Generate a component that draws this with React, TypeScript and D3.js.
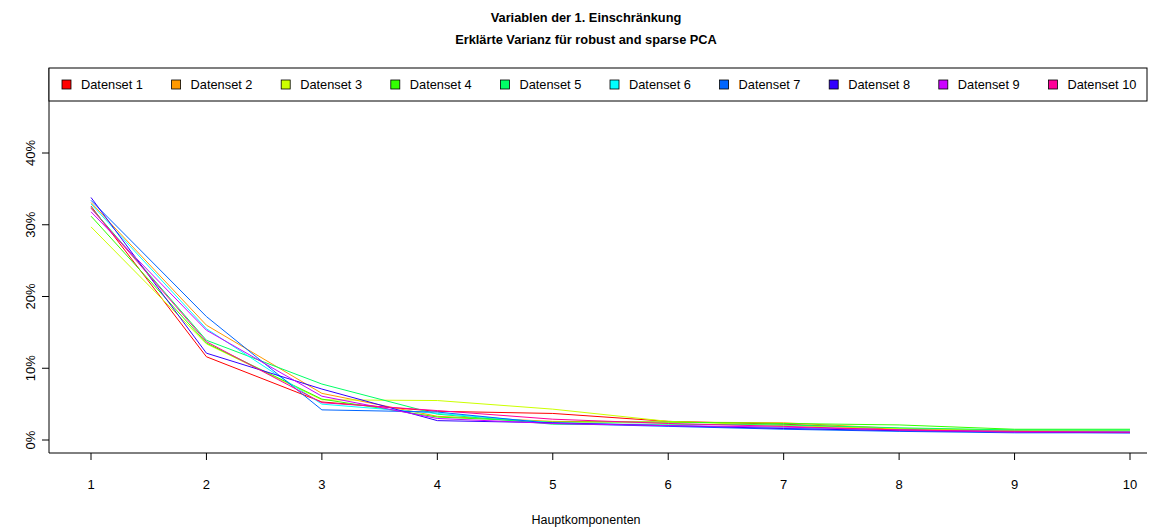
import React from "react";
import * as d3 from "d3";

// Principal components on the x axis
const components = [1, 2, 3, 4, 5, 6, 7, 8, 9, 10];

// Explained variance (%) per component for each dataset
const datenset1 = [32.6, 11.6, 5.3, 4.0, 3.7, 2.6, 2.2, 1.5, 1.2, 1.1];
const datenset2 = [33.1, 16.0, 6.5, 3.3, 2.6, 2.5, 2.4, 1.6, 1.3, 1.2];
const datenset3 = [29.7, 13.4, 5.6, 5.5, 4.3, 2.6, 2.0, 1.6, 1.4, 1.3];
const datenset4 = [31.2, 13.5, 5.7, 3.2, 2.5, 2.5, 2.3, 2.1, 1.5, 1.5];
const datenset5 = [32.4, 13.9, 7.8, 3.6, 2.2, 2.2, 2.1, 1.7, 1.4, 1.4];
const datenset6 = [32.9, 15.5, 5.0, 3.7, 2.4, 2.0, 1.7, 1.4, 1.2, 1.2];
const datenset7 = [33.4, 17.2, 4.2, 3.9, 2.3, 1.9, 1.5, 1.2, 1.0, 1.0];
const datenset8 = [33.8, 12.1, 7.1, 2.7, 2.4, 2.0, 1.6, 1.3, 1.1, 1.0];
const datenset9 = [31.8, 15.3, 6.1, 3.0, 2.3, 2.0, 1.8, 1.4, 1.1, 1.1];
const datenset10 = [32.3, 13.7, 5.2, 4.1, 2.9, 2.3, 1.9, 1.4, 1.2, 1.1];

const seriesNames = [
  "Datenset 1", "Datenset 2", "Datenset 3", "Datenset 4", "Datenset 5",
  "Datenset 6", "Datenset 7", "Datenset 8", "Datenset 9", "Datenset 10",
];
const seriesValues = [
  datenset1, datenset2, datenset3, datenset4, datenset5,
  datenset6, datenset7, datenset8, datenset9, datenset10,
];
const seriesColors = [
  "#FF0000", "#FF9900", "#CCFF00", "#33FF00", "#00FF66",
  "#00FFFF", "#0066FF", "#3300FF", "#CC00FF", "#FF0099",
];

const yTicks = [0, 10, 20, 30, 40];
const yTickLabels = ["0%", "10%", "20%", "30%", "40%"];

const titleLines = ["Variablen der 1. Einschränkung", "Erklärte Varianz für robust and sparse PCA"];
const xAxisTitle = "Hauptkomponenten";

const W = 1172;
const H = 528;
const FONT = "'Liberation Sans', Arial, Helvetica, sans-serif";

export default function App() {
  const plotLeft = 49;
  const plotRight = 1147;
  const plotTop = 68;
  const plotBottom = 453;

  const x = d3.scaleLinear().domain([1, 10]).range([91, 1130]);
  const y = d3.scaleLinear().domain([0, 40]).range([440, 153]);

  const line = d3
    .line<number>()
    .x((_, i) => x(components[i]))
    .y((d) => y(d));

  const legendH = 33;
  const legendStep = 109.6;
  const legendText0 = 81;
  const legendMidY = plotTop + legendH / 2;

  return (
    <svg
      width={W}
      height={H}
      style={{ position: "absolute", left: 0, top: 0, background: "#fff" }}
      fontFamily={FONT}
    >
      <rect x={0} y={0} width={W} height={H} fill="#fff" />

      {/* Title */}
      {titleLines.map((t, i) => (
        <text
          key={t}
          x={586}
          y={22 + i * 22}
          textAnchor="middle"
          fontWeight="bold"
          fontSize={12.8}
          fill="#000"
        >
          {t}
        </text>
      ))}

      {/* Series lines */}
      {seriesValues.map((vals, i) => (
        <path
          key={seriesNames[i]}
          d={line(vals) || ""}
          fill="none"
          stroke={seriesColors[i]}
          strokeWidth={1}
        />
      ))}

      {/* Axis frame (left and bottom) */}
      <line x1={plotLeft} x2={plotLeft} y1={plotTop} y2={plotBottom} stroke="#000" strokeWidth={1} />
      <line x1={plotLeft} x2={plotRight} y1={plotBottom} y2={plotBottom} stroke="#000" strokeWidth={1} />

      {/* Y axis */}
      {yTicks.map((t, i) => (
        <g key={t}>
          <line x1={plotLeft - 7} x2={plotLeft} y1={y(t)} y2={y(t)} stroke="#000" />
          <text
            transform={`translate(${plotLeft - 14},${y(t)}) rotate(-90)`}
            textAnchor="middle"
            fontSize={13}
            fill="#000"
          >
            {yTickLabels[i]}
          </text>
        </g>
      ))}

      {/* X axis */}
      {components.map((c) => (
        <g key={c}>
          <line x1={x(c)} x2={x(c)} y1={plotBottom} y2={plotBottom + 7} stroke="#000" />
          <text x={x(c)} y={plotBottom + 36} textAnchor="middle" fontSize={13} fill="#000">
            {c}
          </text>
        </g>
      ))}
      <text x={586} y={524} textAnchor="middle" fontSize={12.5} fill="#000">
        {xAxisTitle}
      </text>

      {/* Legend */}
      <rect
        x={plotLeft}
        y={plotTop}
        width={plotRight - plotLeft}
        height={legendH}
        fill="#fff"
        stroke="#000"
        strokeWidth={1}
      />
      {seriesNames.map((name, i) => {
        const tx = legendText0 + i * legendStep;
        return (
          <g key={name}>
            <rect x={tx - 19} y={legendMidY - 4.5} width={9} height={9} fill={seriesColors[i]} stroke="#000" strokeWidth={0.8} />
            <text x={tx} y={legendMidY + 4.5} fontSize={12.8} fill="#000">
              {name}
            </text>
          </g>
        );
      })}
    </svg>
  );
}
